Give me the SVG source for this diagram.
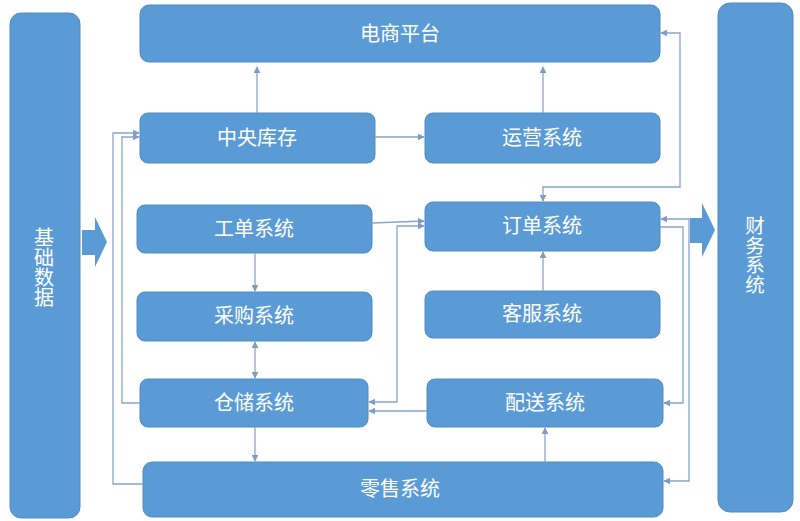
<svg xmlns="http://www.w3.org/2000/svg" width="800" height="521" viewBox="0 0 800 521">
<defs>
<style>
.n{fill:#5b9bd5;stroke:#4f8cc6;stroke-width:1}
.t{fill:#ffffff;font-family:"Noto Sans CJK SC","Noto Sans",sans-serif;font-size:20px;text-anchor:middle}
.v{fill:#ffffff;font-family:"Noto Sans CJK SC","Noto Sans",sans-serif;font-size:20px;writing-mode:vertical-rl;text-anchor:start}
.c{fill:none;stroke:#8aa5c8;stroke-width:1.3}
.ar{fill:#5b9bd5}
</style>
<marker id="a" viewBox="0 0 10 10" refX="9" refY="5" markerWidth="7" markerHeight="7" markerUnits="userSpaceOnUse" orient="auto-start-reverse">
<path d="M0,0 L10,5 L0,10 z" fill="#7f9cc4"/>
</marker>
</defs>
<rect width="800" height="521" fill="#ffffff"/>

<g id="jichushuju">
<rect class="n" x="10" y="13" width="70" height="505" rx="11"/>
<text class="v" x="44" y="227">基础数据</text>
</g>
<g id="arrowL">
<path class="ar" d="M82,230 L95,230 L95,217 L107,242 L95,267 L95,255 L82,255 z"/>
</g>
<g id="caiwu">
<rect class="n" x="718" y="3" width="75" height="509" rx="12"/>
<text class="v" x="755" y="216" style="font-size:19.5px">财务系统</text>
</g>
<g id="arrowR">
<path class="ar" d="M690,218 L702,218 L702,203 L715,230 L702,257 L702,243 L690,243 z"/>
</g>

<g id="dianshang"><rect class="n" x="140" y="5" width="520" height="57" rx="9"/><text class="t" x="400" y="41">电商平台</text></g>
<g id="zhongyang"><rect class="n" x="140" y="113" width="235" height="50" rx="8"/><text class="t" x="257" y="145">中央库存</text></g>
<g id="yunying"><rect class="n" x="425" y="113" width="235" height="50" rx="8"/><text class="t" x="542" y="145">运营系统</text></g>
<g id="gongdan"><rect class="n" x="137" y="205" width="235" height="48" rx="8"/><text class="t" x="254" y="236">工单系统</text></g>
<g id="dingdan"><rect class="n" x="425" y="202" width="235" height="49" rx="8"/><text class="t" x="542" y="233">订单系统</text></g>
<g id="caigou"><rect class="n" x="137" y="292" width="235" height="49" rx="8"/><text class="t" x="254" y="323">采购系统</text></g>
<g id="kefu"><rect class="n" x="425" y="291" width="235" height="47" rx="8"/><text class="t" x="542" y="321">客服系统</text></g>
<g id="cangchu"><rect class="n" x="140" y="379" width="228" height="48" rx="8"/><text class="t" x="254" y="410">仓储系统</text></g>
<g id="peisong"><rect class="n" x="427" y="379" width="236" height="48" rx="8"/><text class="t" x="545" y="410">配送系统</text></g>
<g id="lingshou"><rect class="n" x="143" y="462" width="520" height="55" rx="9"/><text class="t" x="400" y="496">零售系统</text></g>

<g id="connectors">
<path class="c" d="M257,113 V67" marker-end="url(#a)"/>
<path class="c" d="M543,113 V67" marker-end="url(#a)"/>
<path class="c" d="M375,137 H424" marker-end="url(#a)"/>
<path class="c" d="M543,201 V187 H680 V33 H661" marker-start="url(#a)" marker-end="url(#a)"/>
<path class="c" d="M543,291 V252" marker-end="url(#a)"/>
<path class="c" d="M255,253 V291" marker-end="url(#a)"/>
<path class="c" d="M255,342 V378" marker-start="url(#a)" marker-end="url(#a)"/>
<path class="c" d="M255,427 V461" marker-end="url(#a)"/>
<path class="c" d="M545,462 V428" marker-end="url(#a)"/>
<path class="c" d="M372,223 L424,221" marker-end="url(#a)"/>
<path class="c" d="M369,402 H397 V226 H424" marker-start="url(#a)" marker-end="url(#a)"/>
<path class="c" d="M427,411 H369" marker-end="url(#a)"/>
<path class="c" d="M140,403 H122 V137 H139" marker-end="url(#a)"/>
<path class="c" d="M143,484 H113 V133 H139" marker-end="url(#a)"/>
<path class="c" d="M660,227 H683 V403 H664" marker-end="url(#a)"/>
<path class="c" d="M661,219 H689 V481 H664" marker-start="url(#a)" marker-end="url(#a)"/>
</g>
</svg>
